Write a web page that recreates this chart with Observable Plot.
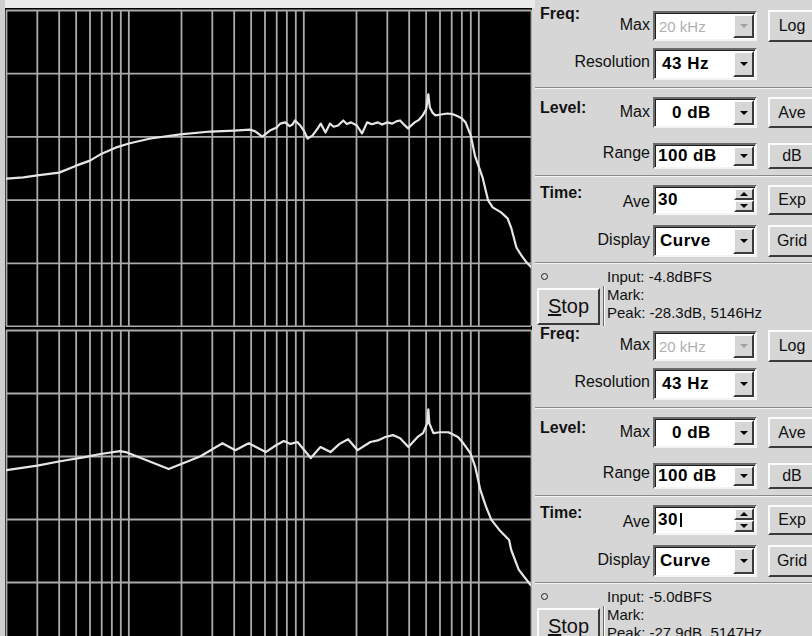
<!DOCTYPE html>
<html><head><meta charset="utf-8">
<script src="https://cdn.jsdelivr.net/npm/d3@7"></script>
<script src="https://cdn.jsdelivr.net/npm/@observablehq/plot@0.6"></script>
<style>
html,body{margin:0;padding:0;}
body{width:812px;height:636px;overflow:hidden;position:relative;background:#d6d6d6;font-family:"Liberation Sans",Arial,sans-serif;}
.abs{position:absolute;}
.t{position:absolute;white-space:nowrap;line-height:18px;height:18px;font-size:16px;color:#111;}
.raised{position:absolute;box-sizing:border-box;background:#d6d6d6;border-top:2px solid #fbfbfb;border-left:2px solid #fbfbfb;border-right:2px solid #3a3a3a;border-bottom:2px solid #3a3a3a;}
.sunken{position:absolute;box-sizing:border-box;background:#fff;border-top:2px solid #6a6a6a;border-left:2px solid #6a6a6a;border-right:2px solid #f4f4f4;border-bottom:2px solid #f4f4f4;box-shadow:inset 1px 1px 0 #202020;}
</style></head><body>
<div class="abs" style="left:0;top:0;width:535px;height:8px;background:#ececec"></div>
<div class="abs" style="left:0;top:0;width:5px;height:636px;background:#cfcfcf"></div>
<div id="top" class="abs" style="left:5px;top:8px"></div>
<div id="bot" class="abs" style="left:5px;top:327px"></div>
<div id="ctrl"></div>
<script>
// ---- data ----
const gridFreqs = [20,30,40,50,60,70,80,90,100,200,300,400,500,600,700,800,900,1000,2000,3000,4000,5000,6000,7000,8000,9000,10000,20000];
const gridLevels = [0,-20,-40,-60,-80,-100];

const freqTop = [20,25,30,40,50,60,70,84,100,133,197,293,400,494,530,579,640,700,733,783,830,860,890,955,1000,1050,1120,1200,1250,1330,1410,1480,1570,1680,1760,1860,2010,2150,2300,2450,2650,2800,3000,3200,3400,3550,3750,3940,4300,4550,4780,5000,5146,5250,5450,5650,6100,6600,7100,7600,8000,8400,9000,9500,10500,11300,12000,13400,14600,15300,16400,17500,18600,20000];
const levelTop = [-53.2,-52.8,-52.2,-51.3,-49.1,-47.5,-45.3,-43.4,-42.1,-40.5,-39.2,-38.3,-38.0,-37.7,-38.3,-39.9,-38.0,-37.0,-35.8,-35.4,-36.6,-36.1,-34.8,-36.4,-38.0,-40.5,-39.6,-37.3,-35.8,-38.6,-35.8,-36.8,-36.4,-34.8,-35.9,-35.4,-36.4,-38.9,-35.4,-36.0,-35.4,-36.1,-35.4,-35.8,-35.0,-34.8,-36.2,-37.3,-35.4,-34.6,-33.2,-31.3,-26.5,-30.7,-32.4,-33.2,-32.9,-32.6,-32.8,-33.5,-34.2,-35.4,-39.6,-45.9,-52.8,-60.1,-62.3,-63.9,-65.8,-68.7,-75.0,-77.5,-79.5,-81.3];

const freqBottom = [20,30,40.5,55,68.8,89,96,169,257,300,343,406,484,606,690,768,840,920,1096,1245,1420,1600,1790,2030,2400,2650,2920,3230,3550,3960,4470,4800,5080,5147,5210,5500,6000,6700,7600,8160,8950,9550,10200,11000,11800,13100,14900,15300,16900,19700,20000];
const levelBottom = [-44.3,-42.9,-41.5,-40.3,-39.2,-38.3,-38.6,-44.0,-39.9,-37.7,-35.8,-38.0,-35.8,-38.6,-36.5,-35.1,-36.0,-35.4,-40.5,-37.0,-38.6,-36.0,-34.5,-38.0,-35.4,-34.9,-33.8,-33.2,-34.2,-37.0,-33.8,-32.6,-29.4,-25.0,-29.4,-32.6,-32.3,-32.3,-33.8,-35.8,-38.9,-43.4,-50.6,-56.0,-60.1,-63.3,-66.5,-69.6,-75.9,-80.7,-81.0];

// control panel texts
const blockOffsets = [0, 320];
const inputLevels = ["-4.8dBFS", "-5.0dBFS"];
const peakReadouts = ["-28.3dB, 5146Hz", "-27.9dB, 5147Hz"];
const freqMaxText = "20 kHz", resText = "43 Hz", levelMaxText = "0 dB", rangeText = "100 dB", aveText = "30", displayText = "Curve";

// ---- plots ----
function panel(freqs, levels, height, marginTop) {
  const data = freqs.map((f, i) => ({f, db: levels[i]}));
  return Plot.plot({
    width: 527, height, marginLeft: 1, marginRight: 1, marginTop, marginBottom: 1,
    x: {type: "log", domain: [20, 20000]},
    y: {domain: [-100, 0]},
    axis: null,
    style: {background: "#000", overflow: "hidden"},
    marks: [
      Plot.ruleX(gridFreqs, {stroke: "#ababab", strokeWidth: 1.8}),
      Plot.ruleY(gridLevels, {stroke: "#ababab", strokeWidth: 1.8}),
      Plot.line(data, {x: "f", y: "db", stroke: "#e6e6e6", strokeWidth: 2.2, clip: true})
    ]
  });
}
document.getElementById("top").appendChild(panel(freqTop, levelTop, 319, 2));
document.getElementById("bot").appendChild(panel(freqBottom, levelBottom, 319, 3));

// ---- controls ----
const ctrl = document.getElementById("ctrl");
function add(cls, css, parent) {
  const d = document.createElement("div");
  d.className = cls; Object.assign(d.style, css);
  (parent || ctrl).appendChild(d); return d;
}
function text(str, cy, opts = {}) {
  const css = {top: (cy - 9) + "px", fontSize: (opts.size || 16) + "px", fontWeight: opts.bold ? "bold" : "normal", color: opts.color || "#111"};
  if (opts.right != null) css.right = (812 - opts.right) + "px"; else css.left = opts.left + "px";
  const d = add("t", css); d.textContent = str; return d;
}
function tri(parent, dir, color, top) {
  const t = add("abs", {left: "50%", top: top || "50%", width: 0, height: 0, marginLeft: "-4px", marginTop: "-2px",
    borderLeft: "4px solid transparent", borderRight: "4px solid transparent"}, parent);
  if (dir === "down") t.style.borderTop = "4px solid " + color; else t.style.borderBottom = "4px solid " + color;
}
function combo(top, h, value, textLeft, opts = {}) {
  const b = add("sunken", {left: "653px", top: top + "px", width: "104px", height: h + "px"});
  const t = add("abs", {left: textLeft + "px", top: 0, bottom: 0, display: "flex", alignItems: "center", whiteSpace: "nowrap",
    fontSize: opts.disabled ? "15px" : "17px", fontWeight: opts.disabled ? "normal" : "bold", letterSpacing: opts.disabled ? "0" : "0.5px",
    color: opts.disabled ? "#b0b0b0" : "#000", textShadow: opts.disabled ? "1px 1px 0 #fff" : "none"}, b);
  t.textContent = value;
  if (opts.caret) add("abs", {left: (textLeft + 22) + "px", top: "6px", bottom: "6px", width: "2px", background: "#000"}, b);
  if (opts.spin) {
    const u = add("raised", {right: "1px", top: "1px", width: "20px", height: ((h - 6) / 2) + "px"}, b);
    tri(u, "up", "#000");
    const d = add("raised", {right: "1px", bottom: "1px", width: "20px", height: ((h - 6) / 2) + "px"}, b);
    tri(d, "down", "#000");
  } else {
    const btn = add("raised", {right: "1px", top: "1px", bottom: "1px", width: "21px"}, b);
    tri(btn, "down", opts.disabled ? "#a0a0a0" : "#000");
  }
  return b;
}
function button(left, top, w, h, label, size) {
  const b = add("raised", {left: left + "px", top: top + "px", width: w + "px", height: h + "px", display: "flex",
    alignItems: "center", justifyContent: "center", fontSize: (size || 16) + "px", color: "#111"});
  b.innerHTML = label; return b;
}
function sep(y) {
  add("abs", {left: "535px", top: y + "px", width: "277px", height: "1px", background: "#8a8a8a", borderBottom: "1px solid #f6f6f6"});
}

blockOffsets.forEach((dy, i) => {
  text("Freq:", 14 + dy, {left: 540, bold: true});
  text("Max", 25 + dy, {right: 650});
  combo(11 + dy, 30, freqMaxText, 4, {disabled: true});
  button(768, 10 + dy, 48, 32, "Log");
  text("Resolution", 62 + dy, {right: 650});
  combo(48 + dy, 32, resText, 7);
  sep(87 + dy);
  text("Level:", 108 + dy, {left: 540, bold: true});
  text("Max", 112 + dy, {right: 650});
  combo(97 + dy, 31, levelMaxText, 17);
  button(768, 97 + dy, 48, 31, "Ave");
  text("Range", 153 + dy, {right: 650});
  combo(143 + dy, 26, rangeText, 3);
  button(768, 143 + dy, 48, 26, "dB");
  sep(175 + dy);
  text("Time:", 193 + dy, {left: 540, bold: true});
  text("Ave", 202 + dy, {right: 650});
  combo(185 + dy, 30, aveText, 3, {spin: true, caret: i === 1});
  button(768, 185 + dy, 48, 30, "Exp");
  text("Display", 240 + dy, {right: 650});
  combo(225 + dy, 32, displayText, 5);
  button(768, 225 + dy, 48, 32, "Grid");
  sep(262 + dy);
  add("abs", {left: "541px", top: (273 + dy) + "px", width: "5px", height: "5px", border: "1.5px solid #222", borderRadius: "50%"});
  text("Input: " + inputLevels[i], 277 + dy, {left: 607, size: 15});
  text("Mark:", 295 + dy, {left: 607, size: 15});
  text("Peak: " + peakReadouts[i], 313 + dy, {left: 607, size: 15});
  button(537, 288 + dy, 63, 37, "<u>S</u>top", 20);
  add("abs", {left: "603px", top: (286 + dy) + "px", width: "1px", height: "40px", background: "#6a6a6a", borderRight: "1px solid #fafafa"});
});
</script>
</body></html>
